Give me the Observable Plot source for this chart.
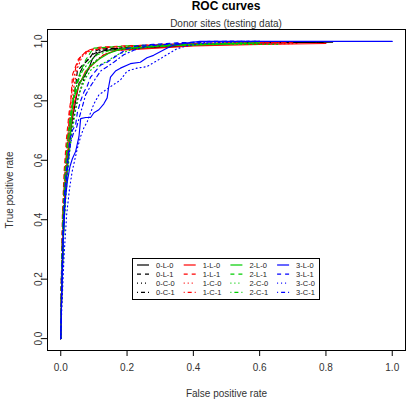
<!DOCTYPE html>
<html><head><meta charset="utf-8">
<script src="https://cdn.jsdelivr.net/npm/d3@7"></script>
<script src="https://cdn.jsdelivr.net/npm/@observablehq/plot@0.6"></script>
<style>
body{margin:0;background:#fff;}
#wrap{position:relative;width:410px;height:406px;overflow:hidden;font-family:"Liberation Sans",Arial,sans-serif;}
#wrap svg{position:absolute;left:0;top:0;}
#legend{left:132px !important;top:258px !important;}
.ttl{position:absolute;left:0;width:452px;text-align:center;white-space:nowrap;}
#title{top:0px;font-size:12px;line-height:12px;font-weight:bold;color:#000;}
#subtitle{top:18px;font-size:10px;line-height:12px;color:#333;}
</style></head>
<body><div id="wrap"><div class="ttl" id="title"></div><div class="ttl" id="subtitle"></div></div>
<script>
// ---- data: ROC curves as [false positive rate, true positive rate] ----
const s0L0 = [[0,0],[0.003,0.15],[0.008,0.35],[0.013,0.5],[0.02,0.6],[0.028,0.68],[0.035,0.74],[0.045,0.8],[0.055,0.86],[0.07,0.88],[0.085,0.91],[0.095,0.94],[0.11,0.96],[0.135,0.97],[0.2,0.975],[0.3,0.98],[0.45,0.99],[0.6,0.995],[0.82,0.997]];
const s0L1 = [[0,0],[0.002,0.2],[0.006,0.4],[0.012,0.55],[0.02,0.66],[0.03,0.75],[0.04,0.82],[0.045,0.85],[0.05,0.9],[0.065,0.92],[0.085,0.94],[0.1,0.965],[0.12,0.975],[0.25,0.98],[0.4,0.99],[0.55,0.995],[0.8,0.997]];
const s0C0 = [[0,0],[0.004,0.2],[0.01,0.4],[0.016,0.52],[0.025,0.63],[0.035,0.72],[0.05,0.8],[0.065,0.86],[0.08,0.9],[0.1,0.93],[0.13,0.955],[0.17,0.97],[0.25,0.98],[0.4,0.99],[0.6,0.995],[0.78,0.997]];
const s0C1 = [[0,0],[0.002,0.2],[0.007,0.42],[0.013,0.55],[0.02,0.65],[0.03,0.74],[0.04,0.81],[0.05,0.86],[0.06,0.9],[0.075,0.93],[0.095,0.955],[0.12,0.97],[0.2,0.98],[0.35,0.99],[0.55,0.995],[0.75,0.997]];
const s1L0 = [[0,0],[0.003,0.18],[0.008,0.38],[0.014,0.52],[0.022,0.63],[0.03,0.71],[0.04,0.79],[0.054,0.85],[0.075,0.9],[0.105,0.93],[0.127,0.953],[0.166,0.97],[0.25,0.975],[0.4,0.985],[0.6,0.99],[0.8,0.993]];
const s1L1 = [[0,0],[0.002,0.22],[0.005,0.42],[0.01,0.56],[0.017,0.67],[0.025,0.76],[0.03,0.8],[0.036,0.89],[0.053,0.94],[0.08,0.97],[0.115,0.98],[0.19,0.985],[0.35,0.99],[0.5,0.995],[0.7,0.997]];
const s1C0 = [[0,0],[0.003,0.2],[0.008,0.4],[0.014,0.54],[0.022,0.66],[0.03,0.76],[0.04,0.85],[0.05,0.91],[0.065,0.95],[0.09,0.97],[0.15,0.98],[0.3,0.985],[0.5,0.99],[0.72,0.993]];
const s1C1 = [[0,0],[0.002,0.2],[0.006,0.4],[0.012,0.55],[0.02,0.67],[0.028,0.77],[0.035,0.85],[0.045,0.91],[0.06,0.95],[0.085,0.97],[0.14,0.98],[0.3,0.99],[0.5,0.995],[0.68,0.997]];
const s2L0 = [[0,0],[0.003,0.17],[0.009,0.37],[0.015,0.5],[0.024,0.62],[0.03,0.7],[0.036,0.8],[0.05,0.84],[0.066,0.877],[0.085,0.914],[0.115,0.94],[0.145,0.96],[0.19,0.977],[0.3,0.985],[0.45,0.99],[0.6,0.995]];
const s2L1 = [[0,0],[0.002,0.2],[0.006,0.4],[0.012,0.55],[0.02,0.66],[0.03,0.76],[0.045,0.85],[0.06,0.9],[0.075,0.937],[0.098,0.977],[0.2,0.985],[0.35,0.99],[0.55,0.995]];
const s2C0 = [[0,0],[0.004,0.18],[0.01,0.38],[0.017,0.5],[0.026,0.62],[0.035,0.7],[0.045,0.77],[0.054,0.82],[0.075,0.877],[0.095,0.91],[0.135,0.93],[0.17,0.955],[0.22,0.975],[0.3,0.985],[0.5,0.99],[0.66,0.99]];
const s2C1 = [[0,0],[0.002,0.2],[0.007,0.41],[0.013,0.54],[0.021,0.65],[0.03,0.74],[0.038,0.8],[0.05,0.86],[0.065,0.9],[0.085,0.93],[0.11,0.955],[0.15,0.97],[0.25,0.98],[0.4,0.99],[0.6,0.995]];
const s3L0 = [[0,0],[0.002,0.12],[0.006,0.3],[0.012,0.45],[0.02,0.53],[0.028,0.58],[0.035,0.605],[0.045,0.63],[0.055,0.68],[0.06,0.74],[0.075,0.744],[0.09,0.744],[0.1,0.76],[0.115,0.77],[0.13,0.79],[0.14,0.81],[0.145,0.85],[0.15,0.88],[0.165,0.9],[0.18,0.91],[0.21,0.925],[0.24,0.93],[0.26,0.945],[0.28,0.953],[0.3,0.965],[0.32,0.977],[0.34,0.987],[0.37,0.993],[0.42,1.0],[1.0,1.0]];
const s3L1 = [[0,0],[0.002,0.15],[0.006,0.35],[0.012,0.5],[0.02,0.6],[0.028,0.67],[0.035,0.7],[0.045,0.72],[0.05,0.76],[0.06,0.8],[0.07,0.83],[0.08,0.85],[0.09,0.88],[0.105,0.9],[0.12,0.92],[0.14,0.93],[0.16,0.945],[0.18,0.96],[0.2,0.975],[0.23,0.985],[0.28,0.99],[0.35,0.995],[0.45,1.0],[0.6,1.0]];
const s3C0 = [[0,0],[0.003,0.1],[0.01,0.28],[0.018,0.42],[0.026,0.5],[0.034,0.56],[0.042,0.6],[0.05,0.64],[0.06,0.68],[0.07,0.71],[0.08,0.73],[0.09,0.76],[0.1,0.79],[0.115,0.82],[0.14,0.84],[0.16,0.855],[0.18,0.87],[0.2,0.9],[0.23,0.91],[0.26,0.915],[0.29,0.935],[0.32,0.955],[0.35,0.975],[0.38,0.985],[0.42,0.993],[0.5,0.997],[0.6,1.0]];
const s3C1 = [[0,0],[0.003,0.15],[0.008,0.35],[0.015,0.5],[0.023,0.6],[0.03,0.66],[0.038,0.69],[0.045,0.7],[0.055,0.74],[0.065,0.78],[0.075,0.82],[0.09,0.85],[0.105,0.875],[0.12,0.9],[0.14,0.915],[0.16,0.93],[0.19,0.955],[0.22,0.97],[0.26,0.985],[0.32,0.99],[0.4,0.995],[0.5,1.0],[0.6,1.0]];

const seriesNames = ["0-L-0","0-L-1","0-C-0","0-C-1","1-L-0","1-L-1","1-C-0","1-C-1","2-L-0","2-L-1","2-C-0","2-C-1","3-L-0","3-L-1","3-C-0","3-C-1"];
const seriesData = [s0L0,s0L1,s0C0,s0C1,s1L0,s1L1,s1C0,s1C1,s2L0,s2L1,s2C0,s2C1,s3L0,s3L1,s3C0,s3C1];
const groups = ["0","1","2","3"];
const groupColors = ["#000000","#FF0000","#00CD00","#0000FF"];
const variants = ["L-0","L-1","C-0","C-1"];
const variantDash = ["none","4,4","1,3","1,3,4,3"];
const axisTicks = [0,0.2,0.4,0.6,0.8,1.0];
const titleText = "ROC curves";
const subtitleText = "Donor sites (testing data)";
const xLabel = "False positive rate";
const yLabel = "True positive rate";

// ---- build table ----
const rows = [];
seriesNames.forEach((name, i) => {
  const [g, ...rest] = name.split("-");
  seriesData[i].forEach(([fpr, tpr]) => rows.push({series: name, group: g, variant: rest.join("-"), fpr, tpr}));
});

const FONT = "Liberation Sans, Arial, sans-serif";
const fmt = d3.format(".1f");
const lineMarks = seriesNames.map((name) => {
  const v = name.slice(2);
  const dash = variantDash[variants.indexOf(v)];
  return Plot.line(rows.filter(r => r.series === name), {
    x: "fpr", y: "tpr", stroke: "group", strokeWidth: 1.15,
    strokeDasharray: dash === "none" ? null : dash
  });
});

const chart = Plot.plot({
  width: 410, height: 406,
  marginLeft: 47, marginRight: 5, marginTop: 29, marginBottom: 56,
  style: {fontFamily: FONT, background: "transparent", overflow: "visible"},
  x: {domain: [-0.04, 1.04]},
  y: {domain: [-0.04, 1.04]},
  color: {domain: groups, range: groupColors},
  marks: [
    ...lineMarks,
    Plot.frame({stroke: "#000"}),
    Plot.axisX({ticks: axisTicks, tickSize: 6, tickPadding: 7, tickFormat: fmt, fontSize: 10, label: null, stroke: "#000", color: "#333"}),
    Plot.axisY({ticks: axisTicks, tickSize: 6, tickPadding: 0, tickRotate: -90, tickFormat: fmt, fontSize: 10, label: null, stroke: "#000", color: "#333"}),
    Plot.text([xLabel], {frameAnchor: "bottom", lineAnchor: "middle", dy: 43, text: d => d, fontSize: 10, fill: "#333"}),
    Plot.text([yLabel], {frameAnchor: "left", textAnchor: "middle", lineAnchor: "middle", dx: -38, rotate: -90, text: d => d, fontSize: 10, fill: "#333"})
  ]
});
const wrap = document.getElementById("wrap");
wrap.insertBefore(chart, wrap.firstChild);
document.getElementById("title").textContent = titleText;
document.getElementById("subtitle").textContent = subtitleText;

// ---- legend (R style, 4 columns x 4 rows) ----
const lw = 188, lh = 42;
const leg = d3.select(wrap).append("svg").attr("id", "legend")
  .attr("width", lw).attr("height", lh).style("font-family", FONT);
leg.append("rect").attr("x", 0.5).attr("y", 0.5).attr("width", lw - 1).attr("height", lh - 1)
  .attr("fill", "#fff").attr("stroke", "#000");
seriesNames.forEach((name, i) => {
  const col = groups.indexOf(name[0]);
  const row = variants.indexOf(name.slice(2));
  const x0 = 5 + col * 46.7, y0 = 7 + row * 9.1;
  const dash = variantDash[row];
  leg.append("line").attr("x1", x0).attr("x2", x0 + 12).attr("y1", y0).attr("y2", y0)
    .attr("stroke", groupColors[col]).attr("stroke-width", 1.2)
    .attr("stroke-dasharray", dash === "none" ? null : dash);
  leg.append("text").attr("x", x0 + 19).attr("y", y0).attr("dy", "0.35em")
    .attr("font-size", 7.5).attr("fill", "#222").text(name);
});
</script></body></html>
